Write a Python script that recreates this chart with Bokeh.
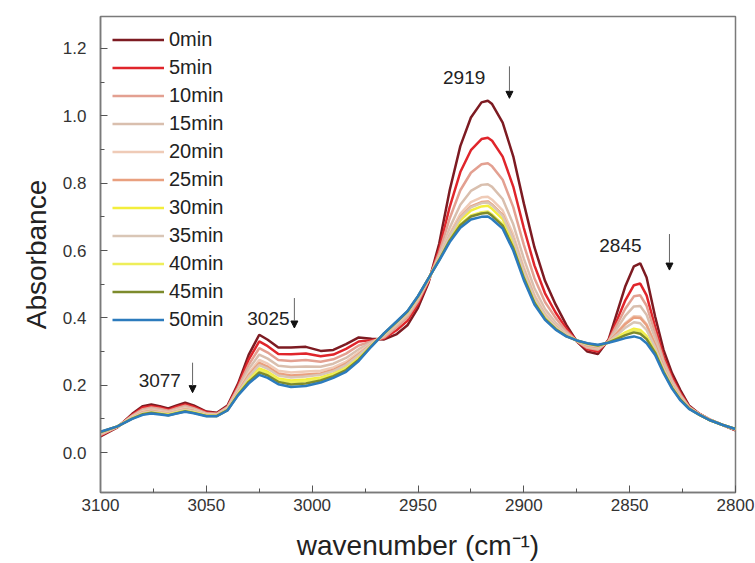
from bokeh.plotting import figure
from bokeh.models import Range1d, Label, Arrow, NormalHead, FixedTicker, CustomJSTickFormatter
from bokeh.embed import file_html
from bokeh.resources import INLINE

wn = [3100, 3092, 3085, 3080, 3076, 3072, 3068, 3064, 3060, 3056, 3050, 3045, 3040, 3035, 3030,
      3025, 3021, 3016, 3010, 3003, 2996, 2990, 2984, 2978, 2972, 2966, 2960, 2955, 2950, 2945,
      2940, 2935, 2930, 2925, 2920, 2917, 2915, 2910, 2905, 2900, 2895, 2890, 2885, 2880, 2875, 2870,
      2865, 2860, 2856, 2852, 2848, 2845, 2842, 2838, 2834, 2830, 2826, 2822, 2817, 2812, 2806, 2800]

a0 = [0.048, 0.075, 0.115, 0.138, 0.143, 0.138, 0.131, 0.140, 0.148, 0.140, 0.122, 0.118, 0.140, 0.205, 0.290,
      0.350, 0.335, 0.312, 0.312, 0.314, 0.302, 0.305, 0.322, 0.342, 0.338, 0.336, 0.352, 0.378, 0.430, 0.505,
      0.620, 0.780, 0.910, 0.995, 1.040, 1.045, 1.035, 0.980, 0.880, 0.740, 0.610, 0.510, 0.440, 0.380, 0.330, 0.300,
      0.293, 0.335, 0.415, 0.495, 0.553, 0.562, 0.520, 0.405, 0.305, 0.236, 0.185, 0.140, 0.115, 0.098, 0.082, 0.066]
a5 = [0.050, 0.076, 0.112, 0.134, 0.138, 0.134, 0.127, 0.136, 0.143, 0.136, 0.120, 0.116, 0.137, 0.199, 0.276,
      0.330, 0.316, 0.293, 0.292, 0.294, 0.286, 0.291, 0.308, 0.330, 0.334, 0.339, 0.364, 0.391, 0.441, 0.509,
      0.604, 0.730, 0.833, 0.898, 0.931, 0.935, 0.926, 0.879, 0.790, 0.667, 0.556, 0.473, 0.416, 0.369, 0.331, 0.307,
      0.300, 0.333, 0.393, 0.453, 0.497, 0.502, 0.467, 0.374, 0.286, 0.224, 0.177, 0.137, 0.114, 0.097, 0.082, 0.067]
a10 = [0.053, 0.076, 0.110, 0.129, 0.134, 0.130, 0.124, 0.132, 0.139, 0.132, 0.117, 0.115, 0.135, 0.193, 0.261,
       0.310, 0.297, 0.275, 0.272, 0.275, 0.270, 0.277, 0.294, 0.318, 0.330, 0.342, 0.373, 0.401, 0.449, 0.512,
       0.593, 0.696, 0.779, 0.831, 0.856, 0.859, 0.850, 0.810, 0.729, 0.617, 0.518, 0.447, 0.400, 0.361, 0.331, 0.311,
       0.305, 0.331, 0.380, 0.428, 0.464, 0.467, 0.436, 0.356, 0.275, 0.216, 0.172, 0.136, 0.114, 0.097, 0.082, 0.068]
a15 = [0.055, 0.077, 0.108, 0.125, 0.130, 0.126, 0.121, 0.128, 0.135, 0.129, 0.115, 0.113, 0.133, 0.188, 0.248,
       0.291, 0.279, 0.258, 0.254, 0.256, 0.255, 0.264, 0.281, 0.307, 0.327, 0.346, 0.379, 0.408, 0.455, 0.514,
       0.584, 0.668, 0.736, 0.777, 0.795, 0.797, 0.789, 0.753, 0.678, 0.576, 0.488, 0.426, 0.386, 0.355, 0.332, 0.314,
       0.308, 0.330, 0.368, 0.407, 0.434, 0.435, 0.409, 0.339, 0.266, 0.210, 0.168, 0.134, 0.113, 0.097, 0.082, 0.068]
a20 = [0.057, 0.077, 0.106, 0.122, 0.126, 0.122, 0.118, 0.125, 0.131, 0.126, 0.113, 0.112, 0.131, 0.183, 0.236,
       0.275, 0.264, 0.243, 0.238, 0.241, 0.243, 0.253, 0.270, 0.298, 0.324, 0.348, 0.384, 0.413, 0.459, 0.516,
       0.579, 0.651, 0.709, 0.744, 0.758, 0.760, 0.751, 0.719, 0.648, 0.551, 0.469, 0.414, 0.378, 0.351, 0.332, 0.318,
       0.312, 0.329, 0.357, 0.385, 0.405, 0.404, 0.382, 0.323, 0.256, 0.203, 0.164, 0.133, 0.113, 0.097, 0.082, 0.069]
a25 = [0.058, 0.077, 0.104, 0.120, 0.124, 0.120, 0.116, 0.123, 0.129, 0.124, 0.112, 0.111, 0.129, 0.180, 0.230,
       0.266, 0.255, 0.235, 0.229, 0.232, 0.235, 0.246, 0.264, 0.292, 0.322, 0.349, 0.385, 0.415, 0.460, 0.516,
       0.577, 0.645, 0.699, 0.731, 0.744, 0.746, 0.737, 0.706, 0.636, 0.542, 0.462, 0.409, 0.375, 0.350, 0.332, 0.318,
       0.313, 0.328, 0.355, 0.382, 0.401, 0.400, 0.378, 0.321, 0.255, 0.202, 0.163, 0.133, 0.113, 0.097, 0.082, 0.069]
a30 = [0.060, 0.078, 0.102, 0.116, 0.120, 0.117, 0.113, 0.120, 0.125, 0.121, 0.110, 0.110, 0.127, 0.176, 0.219,
       0.250, 0.240, 0.220, 0.214, 0.217, 0.223, 0.235, 0.253, 0.283, 0.319, 0.352, 0.387, 0.416, 0.462, 0.517,
       0.575, 0.639, 0.690, 0.719, 0.731, 0.733, 0.724, 0.693, 0.625, 0.533, 0.455, 0.404, 0.372, 0.348, 0.333, 0.322,
       0.317, 0.327, 0.342, 0.357, 0.368, 0.364, 0.346, 0.303, 0.244, 0.195, 0.158, 0.131, 0.112, 0.096, 0.082, 0.070]
a35 = [0.059, 0.077, 0.104, 0.118, 0.122, 0.119, 0.115, 0.122, 0.127, 0.123, 0.111, 0.110, 0.129, 0.178, 0.225,
       0.260, 0.249, 0.229, 0.223, 0.226, 0.231, 0.242, 0.260, 0.289, 0.321, 0.350, 0.385, 0.415, 0.461, 0.516,
       0.576, 0.644, 0.697, 0.728, 0.741, 0.743, 0.734, 0.703, 0.634, 0.539, 0.460, 0.408, 0.374, 0.349, 0.332, 0.320,
       0.315, 0.328, 0.349, 0.371, 0.387, 0.384, 0.364, 0.313, 0.250, 0.199, 0.161, 0.132, 0.113, 0.096, 0.082, 0.069]
a40 = [0.060, 0.078, 0.102, 0.115, 0.119, 0.116, 0.113, 0.119, 0.124, 0.120, 0.110, 0.109, 0.127, 0.174, 0.215,
       0.245, 0.236, 0.216, 0.209, 0.212, 0.219, 0.232, 0.250, 0.280, 0.318, 0.353, 0.388, 0.418, 0.464, 0.517,
       0.572, 0.631, 0.678, 0.704, 0.714, 0.716, 0.707, 0.678, 0.611, 0.521, 0.447, 0.399, 0.368, 0.346, 0.333, 0.323,
       0.318, 0.327, 0.340, 0.354, 0.364, 0.360, 0.343, 0.300, 0.242, 0.194, 0.158, 0.131, 0.112, 0.096, 0.082, 0.070]
a45 = [0.061, 0.078, 0.101, 0.114, 0.118, 0.115, 0.111, 0.117, 0.123, 0.118, 0.109, 0.109, 0.126, 0.172, 0.210,
       0.238, 0.229, 0.210, 0.202, 0.205, 0.214, 0.227, 0.245, 0.276, 0.316, 0.354, 0.389, 0.419, 0.464, 0.518,
       0.572, 0.630, 0.675, 0.701, 0.710, 0.712, 0.703, 0.674, 0.608, 0.519, 0.445, 0.397, 0.367, 0.346, 0.333, 0.324,
       0.318, 0.327, 0.338, 0.349, 0.357, 0.353, 0.337, 0.297, 0.240, 0.193, 0.157, 0.131, 0.112, 0.096, 0.082, 0.070]
a50 = [0.062, 0.078, 0.100, 0.112, 0.116, 0.113, 0.110, 0.116, 0.121, 0.117, 0.108, 0.108, 0.125, 0.170, 0.205,
       0.231, 0.222, 0.203, 0.195, 0.198, 0.208, 0.222, 0.240, 0.272, 0.315, 0.355, 0.390, 0.420, 0.465, 0.518,
       0.570, 0.625, 0.668, 0.692, 0.700, 0.701, 0.693, 0.665, 0.600, 0.512, 0.440, 0.394, 0.365, 0.345, 0.333, 0.325,
       0.320, 0.326, 0.333, 0.340, 0.345, 0.340, 0.325, 0.290, 0.236, 0.190, 0.155, 0.130, 0.112, 0.096, 0.082, 0.070]

labels = ["0min", "5min", "10min", "15min", "20min", "25min", "30min", "35min", "40min", "45min", "50min"]
series = [a0, a5, a10, a15, a20, a25, a30, a35, a40, a45, a50]
colors = ["#7d1b22", "#e0252b", "#e3a091", "#d9bfae", "#efcbb7", "#e9a07f", "#f3ee3c",
          "#d9c6b6", "#eeee5a", "#7d8b2c", "#2c7bbd"]

x_ticks = [3100, 3050, 3000, 2950, 2900, 2850, 2800]
x_minor = [3075, 3025, 2975, 2925, 2875, 2825]
y_ticks = [0.0, 0.2, 0.4, 0.6, 0.8, 1.0, 1.2]
y_minor = [0.1, 0.3, 0.5, 0.7, 0.9, 1.1]

peak_text = ["3077", "3025", "2919", "2845"]
peak_text_x = [3062.0, 3010.7, 2918.2, 2844.4]
peak_text_y = [0.213, 0.397, 1.114, 0.616]
arrow_x = [3056.5, 3008.4, 2906.8, 2831.2]
arrow_y0 = [0.267, 0.459, 1.147, 0.649]
arrow_y1 = [0.178, 0.370, 1.052, 0.542]

FONT = "Liberation Sans"

p = figure(width=755, height=563, output_backend="svg", toolbar_location=None,
           x_range=Range1d(3100, 2800), y_range=Range1d(-0.1185, 1.295),
           min_border_left=100, min_border_right=20, min_border_top=16, min_border_bottom=70)

for lab, ys, c in zip(labels, series, colors):
    p.line(wn, ys, line_color=c, line_width=2.5, legend_label=lab)

p.xgrid.visible = False
p.ygrid.visible = False
p.outline_line_color = "#7a7a7a"
p.outline_line_width = 1.5

for ax in (p.xaxis[0], p.yaxis[0]):
    ax.axis_line_color = "#7a7a7a"
    ax.axis_line_width = 1.5
    ax.major_tick_line_color = "#555555"
    ax.minor_tick_line_color = "#555555"
    ax.major_tick_in = 7
    ax.major_tick_out = 0
    ax.minor_tick_in = 4
    ax.minor_tick_out = 0
    ax.major_label_text_font = FONT
    ax.major_label_text_font_size = "17px"
    ax.major_label_text_color = "#333333"
    ax.axis_label_text_font = FONT
    ax.axis_label_text_font_size = "28px"
    ax.axis_label_text_font_style = "normal"
    ax.axis_label_text_color = "#222222"

p.xaxis.ticker = FixedTicker(ticks=x_ticks, minor_ticks=x_minor)
p.yaxis.ticker = FixedTicker(ticks=y_ticks, minor_ticks=y_minor)
p.yaxis.formatter = CustomJSTickFormatter(code="return tick.toFixed(1);")
p.xaxis.axis_label = "wavenumber (cm\u207b\u00b9)"
p.yaxis.axis_label = "Absorbance"
p.xaxis.major_label_standoff = 6
p.yaxis.major_label_standoff = 14
p.xaxis.axis_label_standoff = 16
p.yaxis.axis_label_standoff = 8

for t, tx, ty in zip(peak_text, peak_text_x, peak_text_y):
    p.add_layout(Label(x=tx, y=ty, text=t, text_align="right", text_baseline="middle",
                       text_font=FONT, text_font_size="19px", text_color="#222222"))
for ax_, y0, y1 in zip(arrow_x, arrow_y0, arrow_y1):
    p.add_layout(Arrow(x_start=ax_, y_start=y0, x_end=ax_, y_end=y1,
                       line_color="#666666", line_width=1,
                       end=NormalHead(size=7, fill_color="#111111", line_color="#111111")))

lg = p.legend[0]
lg.location = "top_left"
lg.margin = 12
lg.padding = 8
lg.border_line_color = None
lg.background_fill_alpha = 0
lg.glyph_width = 52
lg.glyph_height = 21
lg.label_height = 21
lg.spacing = 5
lg.label_standoff = 5
lg.label_text_font = FONT
lg.label_text_font_size = "20px"
lg.label_text_color = "#222222"

open("out.html", "w").write(file_html(p, INLINE))
